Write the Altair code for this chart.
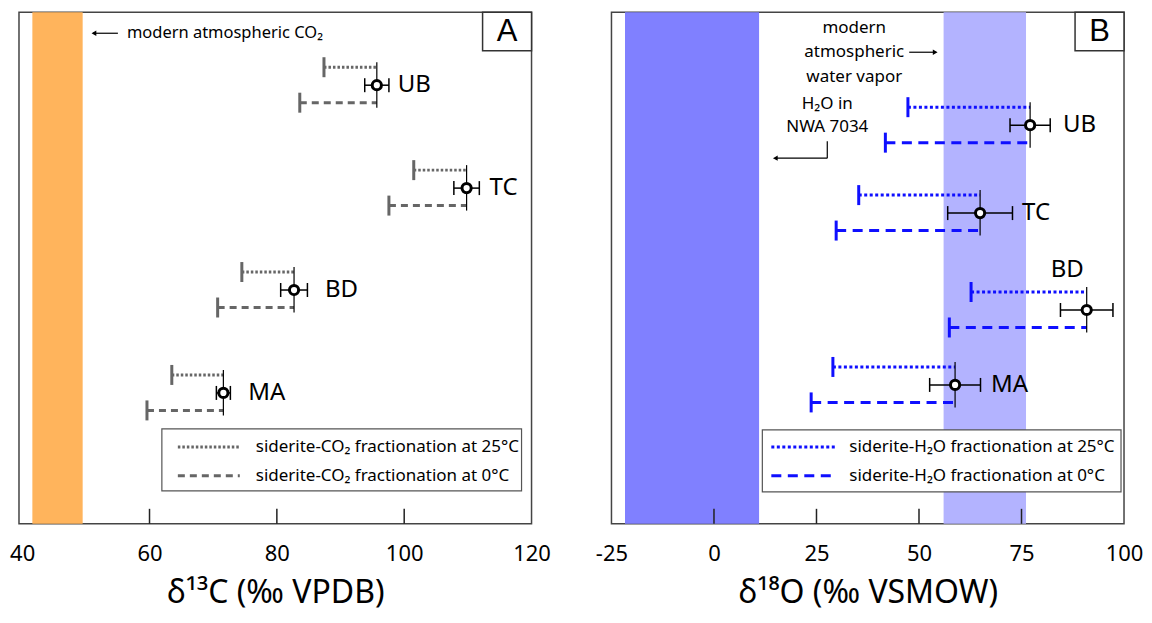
import altair as alt
import pandas as pd

FONT = "Noto Sans"

samples = ["UB", "TC", "BD", "MA"]

# Panel A : d13C (permil VPDB)
c_center = [95.7, 109.8, 82.7, 71.6]
c_err = [1.9, 2.0, 2.1, 1.1]
c_start25 = [87.4, 101.5, 74.5, 63.5]
c_start0 = [83.6, 97.6, 70.7, 59.6]
c_row = [73, 176, 278, 381]
c_band_lo = [41.6]
c_band_hi = [49.5]
c_axis_values = [40, 60, 80, 100, 120]
c_tick_values = [60, 80, 100]

# Panel B : d18O (permil VSMOW)
o_center = [77.1, 64.9, 90.9, 58.8]
o_err = [4.9, 7.9, 6.4, 6.2]
o_start25 = [47.3, 35.3, 62.7, 29.0]
o_start0 = [41.8, 29.8, 57.4, 23.7]
o_row = [113, 201, 298, 373]
o_band_lo = [-21.7, 56.0]
o_band_hi = [11.0, 76.1]
o_axis_values = [-25, 0, 25, 50, 75, 100]
o_tick_values = [0, 25, 50, 75]

W, H = 513, 512


def one():
    return pd.DataFrame({"k": [0]})


def panel(center, err, s25, s0, rows, band_lo, band_hi, band_colors, line_color,
          dash25, dash0, domain, axis_values, tick_values, title, label_pos,
          letter, legend, annotations):
    df = pd.DataFrame({"sample": samples, "center": center, "err": err,
                       "row": rows, "s25": s25, "s0": s0})
    xscale = alt.Scale(domain=domain, nice=False, zero=False)
    yscale = alt.Scale(domain=[0, H], reverse=True, nice=False, zero=False)
    x_axis = alt.Axis(values=axis_values, title=title, grid=False, domain=False,
                      ticks=False, labelFontSize=22, labelFont=FONT,
                      labelColor="black", labelPadding=20, titleFontSize=32,
                      titleFont=FONT, titleFontWeight="normal", titleColor="black",
                      titlePadding=13, labelFlush=False, labelOverlap=False,
                      labelExpr="replace(datum.label, '−', '-')")

    def X(f):
        return alt.X(f, type="quantitative", scale=xscale, axis=x_axis)

    def Y(f):
        return alt.Y(f, type="quantitative", scale=yscale, axis=None)

    base = alt.Chart(df)
    bands = alt.Chart(pd.DataFrame({"lo": band_lo, "hi": band_hi, "c": band_colors})).mark_rect().encode(
        x=X("lo"), x2="hi", y=alt.value(0), y2=alt.value(H),
        color=alt.Color("c:N", scale=None))
    ticks = alt.Chart(pd.DataFrame({"v": tick_values})).mark_rule(
        color="#222", strokeWidth=1.5).encode(x=X("v"), y=alt.value(H), y2=alt.value(H - 15))

    l25 = base.mark_rule(strokeWidth=3, color=line_color, yOffset=-18,
                         strokeDash=dash25).encode(x=X("s25"), x2="center", y=Y("row"))
    l0 = base.mark_rule(strokeWidth=3, color=line_color, yOffset=17.5,
                        strokeDash=dash0).encode(x=X("s0"), x2="center", y=Y("row"))
    c25 = base.mark_tick(orient="vertical", size=20, thickness=3, color=line_color,
                         yOffset=-18, opacity=1).encode(x=X("s25"), y=Y("row"))
    c0 = base.mark_tick(orient="vertical", size=20, thickness=3, color=line_color,
                        yOffset=17.5, opacity=1).encode(x=X("s0"), y=Y("row"))
    vline = base.mark_rule(color="black", strokeWidth=1.2, yOffset=-23,
                           y2Offset=22.5).encode(x=X("center"), y=Y("row"), y2="row")
    eb = base.transform_calculate(lo="datum.center - datum.err", hi="datum.center + datum.err")
    ebar = eb.mark_rule(color="black", strokeWidth=1.5).encode(x=X("lo"), x2="hi", y=Y("row"))
    ecap1 = eb.mark_tick(orient="vertical", size=14, thickness=1.5, color="black",
                         opacity=1).encode(x=X("lo"), y=Y("row"))
    ecap2 = eb.mark_tick(orient="vertical", size=14, thickness=1.5, color="black",
                         opacity=1).encode(x=X("hi"), y=Y("row"))
    pts = base.mark_point(shape="circle", filled=True, fill="white", stroke="black",
                          strokeWidth=3, size=85, opacity=1).encode(x=X("center"), y=Y("row"))

    layers = [bands, ticks, l25, l0, c25, c0, vline, ebar, ecap1, ecap2, pts]
    for s, (dx, dy) in label_pos.items():
        layers.append(base.transform_filter(alt.datum.sample == s).mark_text(
            align="left", baseline="middle", dx=dx, dy=dy, fontSize=24, font=FONT,
            color="black").encode(x=X("center"), y=Y("row"), text="sample:N"))

    # legend (drawn)
    (lx, ly, lx2, ly2, sx, sx2, tx, ry1, ry2, texts) = legend
    layers.append(alt.Chart(one()).mark_rect(fill="white", stroke="#555", strokeWidth=1.2).encode(
        x=alt.value(lx), x2=alt.value(lx2), y=alt.value(ly), y2=alt.value(ly2)))
    layers.append(alt.Chart(one()).mark_rule(strokeWidth=3, color=line_color, strokeDash=dash25).encode(
        x=alt.value(sx), x2=alt.value(sx2), y=alt.value(ry1)))
    layers.append(alt.Chart(one()).mark_rule(strokeWidth=3, color=line_color, strokeDash=dash0).encode(
        x=alt.value(sx), x2=alt.value(sx2), y=alt.value(ry2)))
    for t, yy in zip(texts, [ry1, ry2]):
        layers.append(alt.Chart(one()).mark_text(text=t, align="left", baseline="middle",
                                                 fontSize=17, font=FONT, color="black").encode(
            x=alt.value(tx), y=alt.value(yy)))

    layers.extend(annotations)

    # letter box
    layers.append(alt.Chart(one()).mark_rect(fill="white", stroke="#333", strokeWidth=1.5).encode(
        x=alt.value(W - 49), x2=alt.value(W), y=alt.value(0), y2=alt.value(38.5)))
    layers.append(alt.Chart(one()).mark_text(text=letter, align="center", baseline="middle",
                                             fontSize=31, font="Liberation Sans", color="black").encode(
        x=alt.value(W - 24.5), y=alt.value(20)))
    return alt.layer(*layers).properties(width=W, height=H)


def txt(t, x, y, align="center", size=16.5):
    return alt.Chart(one()).mark_text(text=t, align=align, baseline="middle", fontSize=size,
                                      font=FONT, color="black").encode(x=alt.value(x), y=alt.value(y))


def line(x1, y1, x2, y2):
    return alt.Chart(one()).mark_rule(color="black", strokeWidth=1.2).encode(
        x=alt.value(x1), x2=alt.value(x2), y=alt.value(y1), y2=alt.value(y2))


def head(x, y, shape):
    return alt.Chart(one()).mark_point(shape=shape, filled=True, color="black", size=30,
                                       opacity=1).encode(x=alt.value(x), y=alt.value(y))


annA = [line(74, 21, 99, 21), head(75, 21, "triangle-left"),
        txt("modern atmospheric CO₂", 108, 21, align="left")]
annB = [txt("modern", 243, 16, size=17), txt("atmospheric", 243, 40, size=17),
        txt("water vapor", 243, 65, size=17),
        line(298, 40, 325, 40), head(324, 40, "triangle-right"),
        txt("H₂O in", 216, 92, size=17), txt("NWA 7034", 216, 115, size=17),
        line(216, 129, 216, 146), line(164, 146, 216, 146), head(164, 146, "triangle-left")]

kA = ["siderite-CO₂ fractionation at 25°C", "siderite-CO₂ fractionation at 0°C"]
kB = ["siderite-H₂O fractionation at 25°C", "siderite-H₂O fractionation at 0°C"]

pA = panel(c_center, c_err, c_start25, c_start0, c_row, c_band_lo, c_band_hi,
           ["#FFB45C"], "#666666", [2.5, 2], [7, 5], [39.5, 120], c_axis_values,
           c_tick_values, "δ¹³C (‰ VPDB)",
           {"UB": (21, 0), "TC": (23, 0), "BD": (31, 0), "MA": (25, 0)}, "A",
           (143, 417, 503, 479, 159, 221, 237, 435, 464, kA), annA)
pB = panel(o_center, o_err, o_start25, o_start0, o_row, o_band_lo, o_band_hi,
           ["#8080FF", "#B3B3FF"], "#0F0FFF", [3, 2.5], [10, 6.5], [-25, 100], o_axis_values,
           o_tick_values, "δ¹⁸O (‰ VSMOW)",
           {"UB": (33, 0), "TC": (42, 0), "BD": (-36, -40), "MA": (36, 0)}, "B",
           (151, 418, 510, 480, 160, 224, 238, 435, 464, kB), annB)

chart = alt.hconcat(pA, pB, spacing=80, bounds="flush").properties(
    padding={"left": 0, "top": 2, "right": 0, "bottom": 5}
).configure_view(stroke="#444", strokeWidth=1.5)

chart.save("out.html", embed_options={"renderer": "svg", "actions": False})
